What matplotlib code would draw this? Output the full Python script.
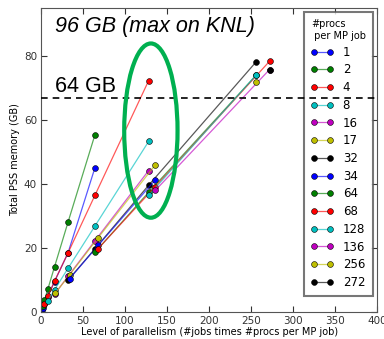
#!/usr/bin/env python3

import matplotlib
matplotlib.use("Agg")
import matplotlib.pyplot as plt
from matplotlib.patches import Ellipse
from matplotlib.colors import to_rgba

# procs per MP job, and for each: total parallelism (jobs x procs) and PSS memory in GB
procs = [1, 2, 4, 8, 16, 17, 32, 34, 64, 68, 128, 136, 256, 272]

par_1 = [1, 2, 4, 8, 16, 32, 64]
mem_1 = [0.6, 1.2, 2.4, 4.8, 9.5, 18.4, 45.0]
par_2 = [2, 4, 8, 16, 32, 64]
mem_2 = [1.8, 3.6, 7.1, 14.1, 28.0, 55.3]
par_4 = [4, 8, 16, 32, 64, 128]
mem_4 = [2.5, 4.9, 9.6, 18.4, 36.4, 72.3]
par_8 = [8, 16, 32, 64, 128]
mem_8 = [3.5, 6.9, 13.6, 26.8, 53.3]
par_16 = [16, 32, 64, 128]
mem_16 = [5.5, 11.1, 22.2, 44.2]
par_17 = [17, 34, 68, 136]
mem_17 = [5.9, 11.6, 23.2, 46.0]
par_32 = [32, 64, 128, 256]
mem_32 = [9.9, 19.7, 39.6, 78.2]
par_34 = [34, 68, 136]
mem_34 = [10.4, 20.8, 41.3]
par_64 = [64, 128, 256]
mem_64 = [18.6, 37.4, 74.0]
par_68 = [68, 136, 272]
mem_68 = [19.8, 39.2, 78.4]
par_128 = [128, 256]
mem_128 = [36.4, 74.1]
par_136 = [136, 272]
mem_136 = [38.0, 75.8]
par_256 = [256]
mem_256 = [71.8]
par_272 = [272]
mem_272 = [75.8]

pars = [par_1, par_2, par_4, par_8, par_16, par_17, par_32,
        par_34, par_64, par_68, par_128, par_136, par_256, par_272]
mems = [mem_1, mem_2, mem_4, mem_8, mem_16, mem_17, mem_32,
        mem_34, mem_64, mem_68, mem_128, mem_136, mem_256, mem_272]

colors = ['b', 'g', 'r', 'c', 'm', 'y', 'k']
old_colors = {'b': (0, 0, 1), 'g': (0, 0.5, 0), 'r': (1, 0, 0),
              'c': (0, 0.75, 0.75), 'm': (0.75, 0, 0.75),
              'y': (0.75, 0.75, 0), 'k': (0, 0, 0)}

limit_64 = 67.0
myFontSize = 7.5

fig = plt.figure(figsize=(3.84, 3.39), dpi=100)
ax = fig.add_axes([0.107, 0.08, 0.875, 0.896])

for i, p in enumerate(procs):
    c = old_colors[colors[i % len(colors)]]
    ax.plot(pars[i], mems[i], '-o', color=to_rgba(c, 0.65), lw=0.9,
            marker='o', ms=4.2, mfc=c, mec='k', mew=0.4, label=str(p))

ax.axhline(limit_64, color='k', ls='--', lw=1.2, dashes=(4, 3), zorder=10)

ax.add_patch(Ellipse((130.7, 56.7), 63.5, 54.5, fill=False,
                     edgecolor='#00B050', lw=3, zorder=11))

ax.text(17, 89.3, "96 GB (max on KNL)", fontsize=15.5, style='italic',
        family='Liberation Sans', va='center')
ax.text(17, 70.5, "64 GB", fontsize=15.5, family='Liberation Sans',
        va='center')

ax.set_xlim(0, 400)
ax.set_ylim(0, 95)
ax.set_xticks(range(0, 401, 50))
ax.set_yticks(range(0, 81, 20))
ax.set_xlabel("Level of parallelism (#jobs times #procs per MP job)",
              fontsize=7, labelpad=1)
ax.set_ylabel("Total PSS memory (GB)", fontsize=7, labelpad=3)
ax.tick_params(direction='in', top=True, right=True, length=4,
               labelsize=myFontSize, colors='#333333', pad=3)
for s in ax.spines.values():
    s.set_color('#555555')

leg = ax.legend(title="#procs\n per MP job", loc='upper right', numpoints=2,
                fontsize=8.5, title_fontsize=7, borderaxespad=0.35,
                handlelength=1.9, handletextpad=0.8, labelspacing=0.4,
                fancybox=False, alignment='left', borderpad=0.6)
leg.get_frame().set_edgecolor('#555555')
leg.get_frame().set_linewidth(1.5)

fig.savefig('out.png', dpi=100)
